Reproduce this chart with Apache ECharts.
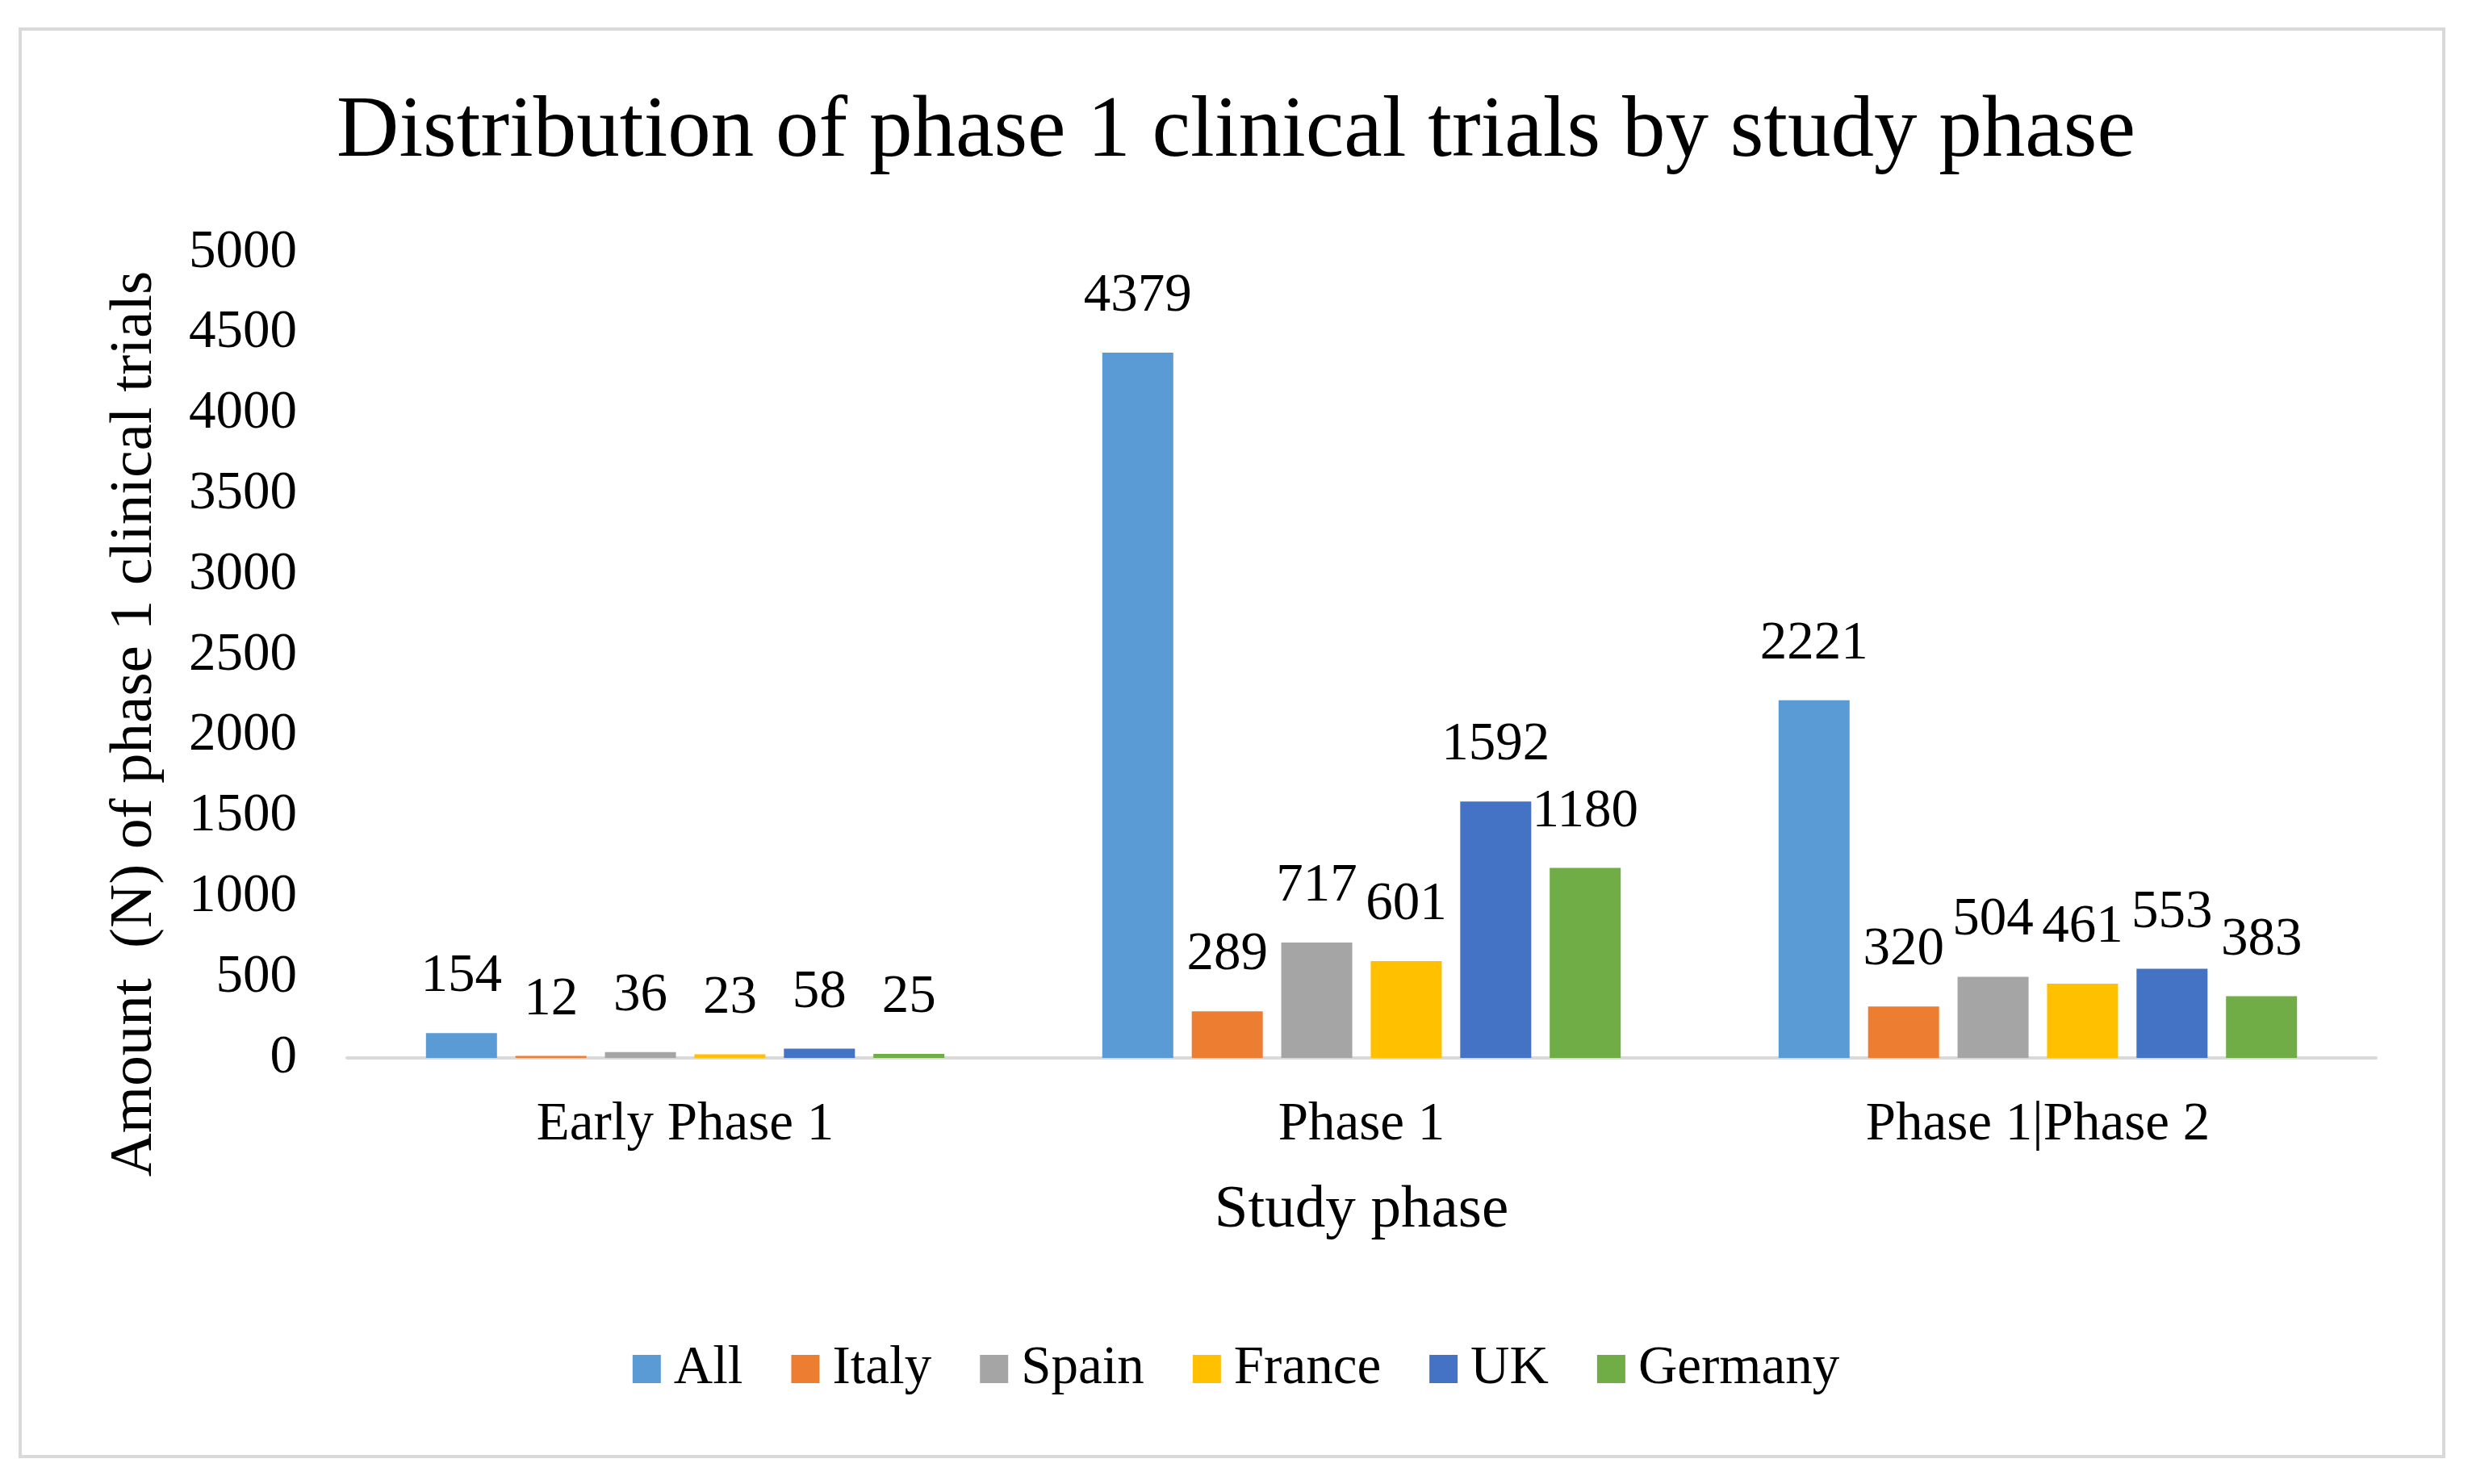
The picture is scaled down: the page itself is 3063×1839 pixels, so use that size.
<!DOCTYPE html>
<html>
<head>
<meta charset="utf-8">
<title>Distribution of phase 1 clinical trials by study phase</title>
<script src="https://cdn.jsdelivr.net/npm/echarts@6/dist/echarts.min.js"></script>
<style>
  html, body { margin: 0; padding: 0; background: #fff; }
  #chart { width: 3063px; height: 1839px; }
</style>
</head>
<body>
<div id="chart"></div>
<script>
// study phases on the x axis
const phases = ['Early Phase 1', 'Phase 1', 'Phase 1|Phase 2'];

// counts per country, in phase order
const allTrials = [154, 4379, 2221];
const italy = [12, 289, 320];
const spain = [36, 717, 504];
const france = [23, 601, 461];
const uk = [58, 1592, 553];
const germany = [25, 1180, 383];

const yTicks = { min: 0, max: 5000, step: 500 };

const seriesNames = ['All', 'Italy', 'Spain', 'France', 'UK', 'Germany'];
const seriesData = [allTrials, italy, spain, france, uk, germany];
const colors = ['#5B9BD5', '#ED7D31', '#A5A5A5', '#FFC000', '#4472C4', '#70AD47'];

const FONT = '"Liberation Serif", "Times New Roman", serif';

const chart = echarts.init(document.getElementById('chart'), null, { renderer: 'canvas' });

const series = seriesNames.map((name, i) => ({
  name: name,
  type: 'bar',
  data: seriesData[i],
  barWidth: 88,
  barGap: '26%',
  itemStyle: { color: colors[i] },
  label: {
    show: true,
    position: 'top',
    distance: 36,
    color: '#000',
    fontFamily: FONT,
    fontSize: 67
  }
}));

chart.setOption({
  backgroundColor: '#fff',
  animation: false,
  color: colors,
  title: {
    text: 'Distribution of phase 1 clinical trials by study phase',
    left: 'center',
    top: 106,
    textStyle: { fontFamily: FONT, fontSize: 107, fontWeight: 'normal', color: '#000' }
  },
  legend: {
    data: seriesNames,
    left: 'center',
    top: 1658,
    icon: 'rect',
    itemWidth: 35,
    itemHeight: 35,
    itemGap: 60,
    textStyle: { fontFamily: FONT, fontSize: 67, color: '#000', padding: [0, 0, 0, 11] }
  },
  grid: { left: 430, right: 119, top: 313, bottom: 528, containLabel: false },
  xAxis: {
    type: 'category',
    data: phases,
    name: 'Study phase',
    nameLocation: 'middle',
    nameGap: 152,
    nameTextStyle: { fontFamily: FONT, fontSize: 75, color: '#000' },
    axisLine: { lineStyle: { color: '#d9d9d9', width: 4 } },
    axisTick: { show: false },
    axisLabel: { fontFamily: FONT, fontSize: 67, color: '#000', margin: 50 }
  },
  yAxis: {
    type: 'value',
    min: yTicks.min,
    max: yTicks.max,
    interval: yTicks.step,
    axisLine: { show: false },
    axisTick: { show: false },
    splitLine: { show: false },
    axisLabel: {
      fontFamily: FONT,
      fontSize: 67,
      color: '#000',
      margin: 62,
      formatter: v => String(v)   // no thousands separator
    }
  },
  graphic: [
    {
      type: 'rect',
      shape: { x: 25, y: 36, width: 3003, height: 1769 },
      style: { fill: 'none', stroke: '#d9d9d9', lineWidth: 4 },
      silent: true
    },
    {
      type: 'text',
      x: 167,
      y: 897,
      rotation: Math.PI / 2,
      style: {
        text: 'Amount  (N) of phase 1 clinical trials',
        font: '75px ' + FONT,
        fill: '#000',
        align: 'center',
        verticalAlign: 'middle'
      }
    }
  ],
  series: series
});
</script>
</body>
</html>
